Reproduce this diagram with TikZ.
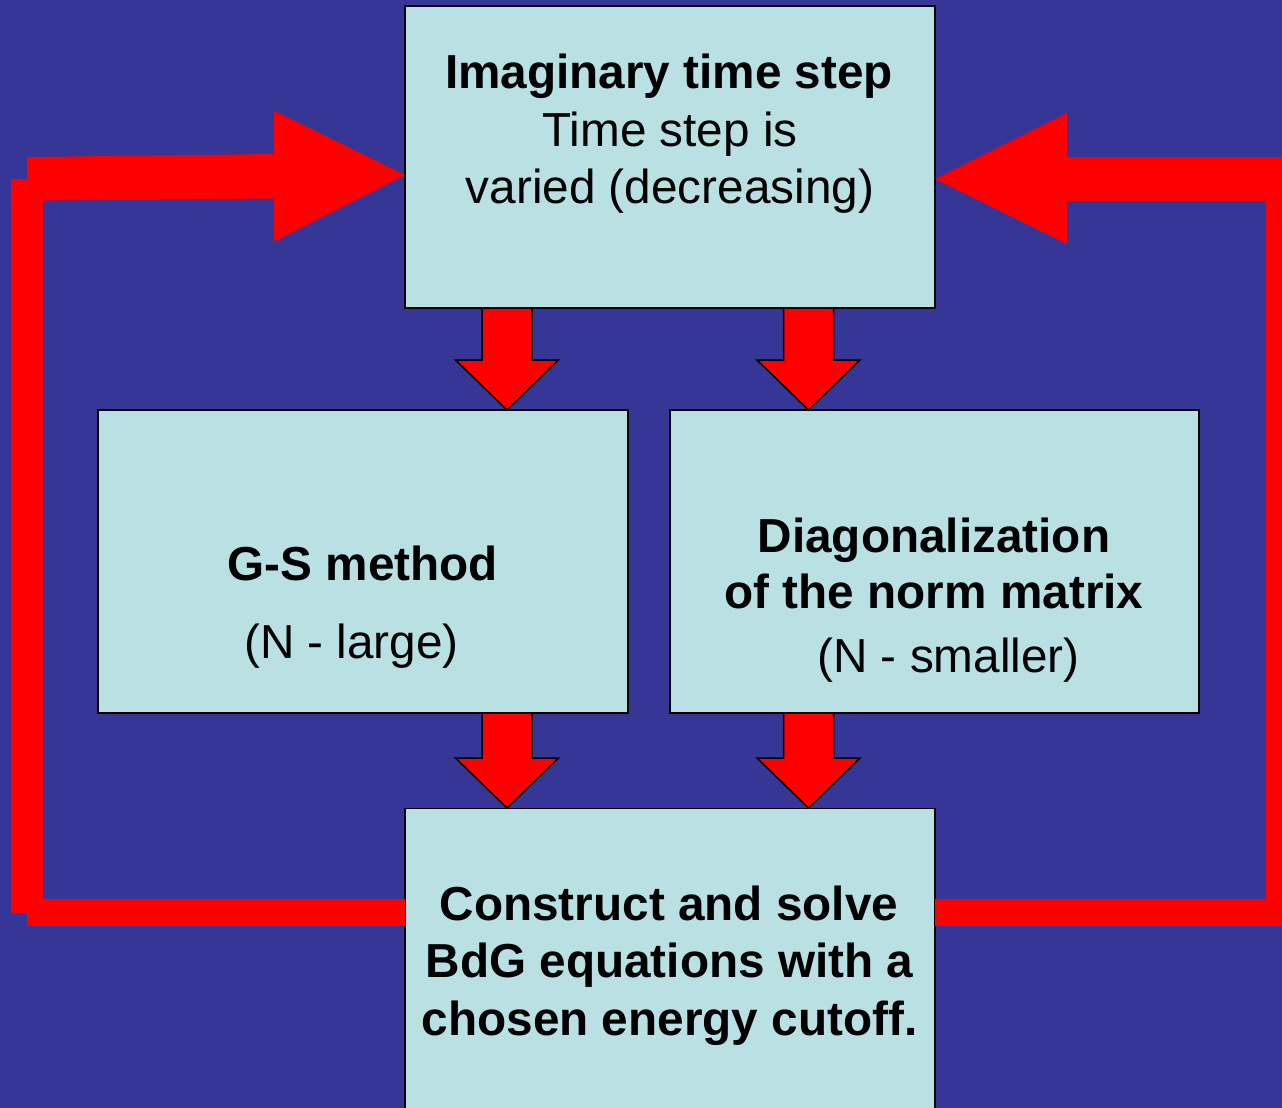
\documentclass[tikz,border=0pt]{standalone}
\usepackage{fontspec}
\setmainfont{Liberation Sans}
\definecolor{bgblue}{RGB}{54,54,151}
\definecolor{boxfill}{RGB}{185,224,227}
\definecolor{loopred}{RGB}{255,0,0}
\begin{document}
\begin{tikzpicture}[x=0.5pt,y=-0.5pt,
  box/.style={draw=black,line width=0.8pt,fill=boxfill,inner sep=0pt,outer sep=0pt,minimum width=265pt},
  lbl/.style={anchor=base,inner sep=0pt,font=\fontsize{23.85pt}{28pt}\selectfont},
  blbl/.style={lbl,font=\fontsize{23.85pt}{28pt}\selectfont\bfseries},
  arrowstyle/.style={fill=loopred,draw=black,line width=0.75pt,line join=miter},
  loopfill/.style={fill=loopred},
  pics/blockdown/.style={code={\filldraw[arrowstyle] (-25,0) -- (25,0) -- (25,#1-50) -- (51.5,#1-50) -- (0,#1) -- (-51.5,#1-50) -- (-25,#1-50) -- cycle;}}]
\useasboundingbox (0,0) rectangle (1282,1108);
\clip (0,0) rectangle (1282,1108);
\fill[bgblue] (0,0) rectangle (1282,1108);

% boxes
\node[box,minimum height=151pt] (top) at (670,157) {};
\node[box,minimum height=151.5pt] (gs) at (363,561.5) {};
\node[box,minimum height=151.5pt,minimum width=264.5pt] (diag) at (934.5,561.5) {};
\node[box,minimum height=155pt] (bot) at (670,963.5) {};

% texts
\node[blbl] (t1) at (669,88) {Imaginary time step};
\node[lbl] (t2) at (670,146.5) {Time step is};
\node[lbl] (t3) at (670,203.5) {varied (decreasing)};
\node[blbl] (g1) at (363,580) {G-S method};
\node[lbl] (g2) at (351.5,658) {(N - large)};
\node[blbl] (d1) at (934,552) {Diagonalization};
\node[blbl] (d2) at (934,608) {of the norm matrix};
\node[lbl] (d3) at (948.5,672) {(N - smaller)};
\node[blbl] (b1) at (669,920) {Construct and solve};
\node[blbl] (b2) at (669.5,977) {BdG equations with a};
\node[blbl] (b3) at (669.5,1035) {chosen energy cutoff.};

% down block arrows
\coordinate (xl) at (507,0);
\coordinate (xr) at (808.5,0);
\pic at (top.south -| xl) {blockdown=102};
\pic at (top.south -| xr) {blockdown=102};
\pic at (gs.south -| xl) {blockdown=95};
\pic at (diag.south -| xr) {blockdown=95};

% left feedback loop
\fill[loopfill] (11,179) rectangle (43,913);
\fill[loopfill] (27,899) rectangle (405,926);
\fill[loopfill] (27,157) -- (274,154) -- (274,198.5) -- (27,200.7) -- cycle;
\fill[loopfill] (274,110.7) -- (top.west |- 0,175) -- (274,241.7) -- cycle;

% right feedback loop
\fill[loopfill] (1067,157) rectangle (1290,201);
\fill[loopfill] (1266,157) rectangle (1290,926);
\fill[loopfill] (935,899) rectangle (1290,926);
\fill[loopfill] (1067,113) -- (top.east |- 0,179) -- (1067,244) -- cycle;
\end{tikzpicture}
\end{document}
